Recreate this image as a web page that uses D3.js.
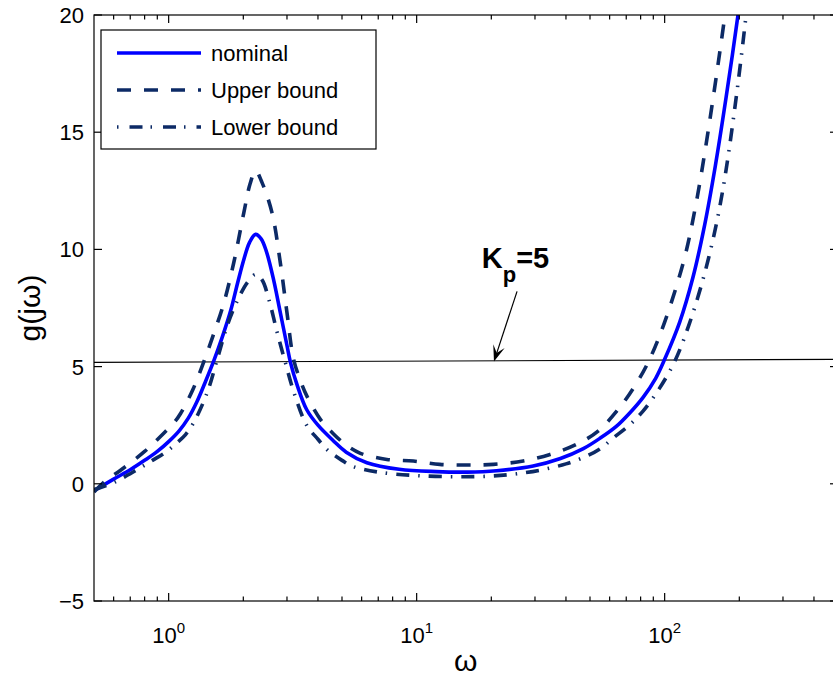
<!DOCTYPE html>
<html><head><meta charset="utf-8">
<script src="https://cdn.jsdelivr.net/npm/d3@7"></script>
<style>
body{margin:0;background:#fff}
svg{display:block}
text{font-family:Arial,"Liberation Sans",Helvetica,sans-serif;fill:#000}
</style>
</head><body>
<svg id="chart" width="833" height="677"></svg>
<script>
// ---------- data ----------
const xDomain = [0.5, 500];
const yDomain = [-5, 20];
const yTicks = [-5, 0, 5, 10, 15, 20];
const xMajorTicks = [1, 10, 100];
const xMajorExponents = ["0", "1", "2"];
const xMinorTicks = [0.6,0.7,0.8,0.9,2,3,4,5,6,7,8,9,20,30,40,50,60,70,80,90,200,300,400];

const omegaNominal = [0.5,0.6,0.7,0.8,0.9,1.0,1.1,1.2,1.3,1.4,1.52,1.65,1.78,1.9,2.01,2.12,2.24,2.36,2.48,2.65,2.82,3.0,3.1,3.3,3.6,4.0,4.6,5.2,6.3,8.5,12,16,21,29.5,38,47,55,64,72,82,92,100,115,130,145,160,177,197,215];
const gNominal     = [-0.3,0.2,0.6,1.0,1.38,1.8,2.25,2.8,3.5,4.3,5.24,6.3,7.4,8.6,9.57,10.3,10.64,10.45,9.9,8.7,7.3,5.9,5.17,4.2,3.17,2.5,1.85,1.35,0.9,0.62,0.52,0.5,0.56,0.76,1.08,1.5,1.95,2.46,3.0,3.7,4.5,5.31,6.9,8.8,11.05,13.55,16.5,19.9,23];

const omegaUpper = [0.5,0.55,0.64,0.8,0.96,1.05,1.117,1.25,1.39,1.52,1.67,1.83,2.01,2.13,2.24,2.38,2.61,2.82,3.0,3.19,3.4,3.61,4.09,4.6,5.2,5.93,7.58,9.7,12.4,15.9,20.4,26.9,34.5,44.1,53.9,64.9,75,85.7,100,120,133,147,174,190];
const gUpper     = [-0.35,0.08,0.58,1.38,2.18,2.6,3.0,4.0,5.24,6.4,7.72,9.43,11.57,12.8,13.36,12.85,11.57,9.43,7.3,5.31,4.4,3.74,2.75,2.15,1.65,1.3,1.04,0.97,0.83,0.80,0.83,0.97,1.25,1.68,2.25,3.17,4.1,5.17,6.9,9.6,11.8,14.5,19.8,23];

const omegaLower = [0.5,0.6,0.748,0.86,0.972,1.08,1.17,1.26,1.43,1.57,1.72,1.9,2.08,2.24,2.38,2.53,2.74,2.95,3.2,3.6,4.0,4.36,5.0,5.5,7,10,15,20,25,31.4,40,48.4,55,62,72,81.8,95,110,125,142.6,158,172,190,213,235];
const gLower     = [-0.25,0.05,0.61,1.0,1.35,1.75,2.1,2.6,3.89,5.31,6.73,7.85,8.6,8.93,8.7,7.9,6.45,5.2,3.9,2.5,1.9,1.45,1.0,0.75,0.5,0.35,0.3,0.33,0.42,0.58,0.85,1.18,1.5,1.95,2.5,3.1,4.05,5.24,6.75,8.7,10.6,12.6,15.7,20,24.5];

const seriesNames = ["nominal", "Upper bound", "Lower bound"];

const kpLineOmega = [0.5, 500];
const kpLineG = [5.18, 5.31];
const kpArrowOmega = [25.4, 20.5];  // tail, head
const kpArrowG = [8.21, 5.22];
const kpLabelPos = [18.3, 9.19];

// ---------- setup ----------
const W = 833, H = 677;
const x = d3.scaleLog().domain(xDomain).range([94, 838]);
const y = d3.scaleLinear().domain(yDomain).range([601, 15]);
const svg = d3.select("#chart");
svg.append("rect").attr("width", W).attr("height", H).attr("fill", "#fff");

const defs = svg.append("defs");
defs.append("clipPath").attr("id", "clip")
  .append("rect").attr("x", x.range()[0]).attr("y", y.range()[1])
  .attr("width", x.range()[1] - x.range()[0]).attr("height", y.range()[0] - y.range()[1]);

const navy = "#0c2a66";
const styles = [
  {color: "#0000ff", dash: null, width: 3.6},
  {color: navy, dash: "14,13", width: 3.6},
  {color: navy, dash: "13,9,1.5,9", width: 3.6}
];
const seriesData = [
  d3.zip(omegaNominal, gNominal),
  d3.zip(omegaUpper, gUpper),
  d3.zip(omegaLower, gLower)
];

const line = d3.line().x(d => x(d[0])).y(d => y(d[1])).curve(d3.curveCatmullRom.alpha(0.5));
const plot = svg.append("g").attr("clip-path", "url(#clip)");

// Kp horizontal line
plot.append("path")
  .attr("d", d3.line().x(d => x(d[0])).y(d => y(d[1]))(d3.zip(kpLineOmega, kpLineG)))
  .attr("stroke", "#000").attr("stroke-width", 1.1).attr("fill", "none");

seriesData.forEach((data, i) => {
  plot.append("path")
    .attr("d", line(data))
    .attr("fill", "none")
    .attr("stroke", styles[i].color)
    .attr("stroke-width", styles[i].width)
    .attr("stroke-dasharray", styles[i].dash)
    .attr("stroke-linejoin", "round");
});

// ---------- axes frame & ticks ----------
const [x0, x1] = x.range();
const [yb, yt] = y.range();
const axes = svg.append("g").attr("stroke", "#000").attr("stroke-width", 1.2).attr("fill", "none");
axes.append("rect").attr("x", x0).attr("y", yt).attr("width", x1 - x0).attr("height", yb - yt);

const major = 8, minor = 4.5;
yTicks.forEach(t => {
  axes.append("line").attr("x1", x0).attr("x2", x0 + major).attr("y1", y(t)).attr("y2", y(t));
  axes.append("line").attr("x1", x1).attr("x2", x1 - major).attr("y1", y(t)).attr("y2", y(t));
});
xMajorTicks.forEach(t => {
  axes.append("line").attr("x1", x(t)).attr("x2", x(t)).attr("y1", yb).attr("y2", yb - major);
  axes.append("line").attr("x1", x(t)).attr("x2", x(t)).attr("y1", yt).attr("y2", yt + major);
});
xMinorTicks.forEach(t => {
  axes.append("line").attr("x1", x(t)).attr("x2", x(t)).attr("y1", yb).attr("y2", yb - minor);
  axes.append("line").attr("x1", x(t)).attr("x2", x(t)).attr("y1", yt).attr("y2", yt + minor);
});

// tick labels
svg.append("g").selectAll("text").data(yTicks).join("text")
  .attr("x", x0 - 10).attr("y", d => y(d)).attr("dy", "0.36em")
  .attr("text-anchor", "end").attr("font-size", 22)
  .text(d => d < 0 ? "\u2212" + Math.abs(d) : d);

xMajorTicks.forEach((t, i) => {
  const tx = svg.append("text").attr("x", x(t)).attr("y", 643)
    .attr("text-anchor", "middle").attr("font-size", 22);
  tx.append("tspan").text("10");
  tx.append("tspan").attr("font-size", 15).attr("dy", -10).text(xMajorExponents[i]);
});

// axis labels
svg.append("text").attr("x", (x(1) + x(100)) / 2 + 49).attr("y", 671)
  .attr("text-anchor", "middle").attr("font-size", 30).text("\u03c9");
svg.append("text").attr("transform", `translate(40, ${(yb + yt) / 2}) rotate(-90)`)
  .attr("text-anchor", "middle").attr("font-size", 30).text("g(j\u03c9)");

// ---------- annotation ----------
const tail = [x(kpArrowOmega[0]), y(kpArrowG[0])];
const head = [x(kpArrowOmega[1]), y(kpArrowG[1])];
const dx = head[0] - tail[0], dy = head[1] - tail[1];
const len = Math.hypot(dx, dy);
const ux = dx / len, uy = dy / len, nx = -uy, ny = ux;
const L = 16, Wd = 6, notch = 0.55;
svg.append("line").attr("x1", tail[0]).attr("y1", tail[1])
  .attr("x2", head[0] - ux * L * notch).attr("y2", head[1] - uy * L * notch)
  .attr("stroke", "#000").attr("stroke-width", 1.2);
svg.append("path")
  .attr("d", `M${head[0]},${head[1]} L${head[0]-ux*L+nx*Wd},${head[1]-uy*L+ny*Wd} L${head[0]-ux*L*notch},${head[1]-uy*L*notch} L${head[0]-ux*L-nx*Wd},${head[1]-uy*L-ny*Wd} Z`)
  .attr("fill", "#000");

const kp = svg.append("text").attr("x", x(kpLabelPos[0])).attr("y", y(kpLabelPos[1]))
  .attr("font-size", 29).attr("font-weight", "bold");
kp.append("tspan").text("K");
kp.append("tspan").attr("font-size", 22).attr("dy", 14).text("p");
kp.append("tspan").attr("dy", -14).text("=5");

// ---------- legend ----------
const lg = svg.append("g");
lg.append("rect").attr("x", 101).attr("y", 30).attr("width", 275).attr("height", 119)
  .attr("fill", "#fff").attr("stroke", "#000").attr("stroke-width", 1.2);
const legendDash = [null, "14,13", "1.5,11,13,8"];
seriesNames.forEach((name, i) => {
  const ry = 53 + i * 37;
  lg.append("line").attr("x1", 117).attr("x2", 201).attr("y1", ry).attr("y2", ry)
    .attr("stroke", styles[i].color).attr("stroke-width", styles[i].width)
    .attr("stroke-dasharray", legendDash[i]);
  lg.append("text").attr("x", 211).attr("y", ry).attr("dy", "0.36em")
    .attr("font-size", 22).text(name);
});
</script>
</body></html>
